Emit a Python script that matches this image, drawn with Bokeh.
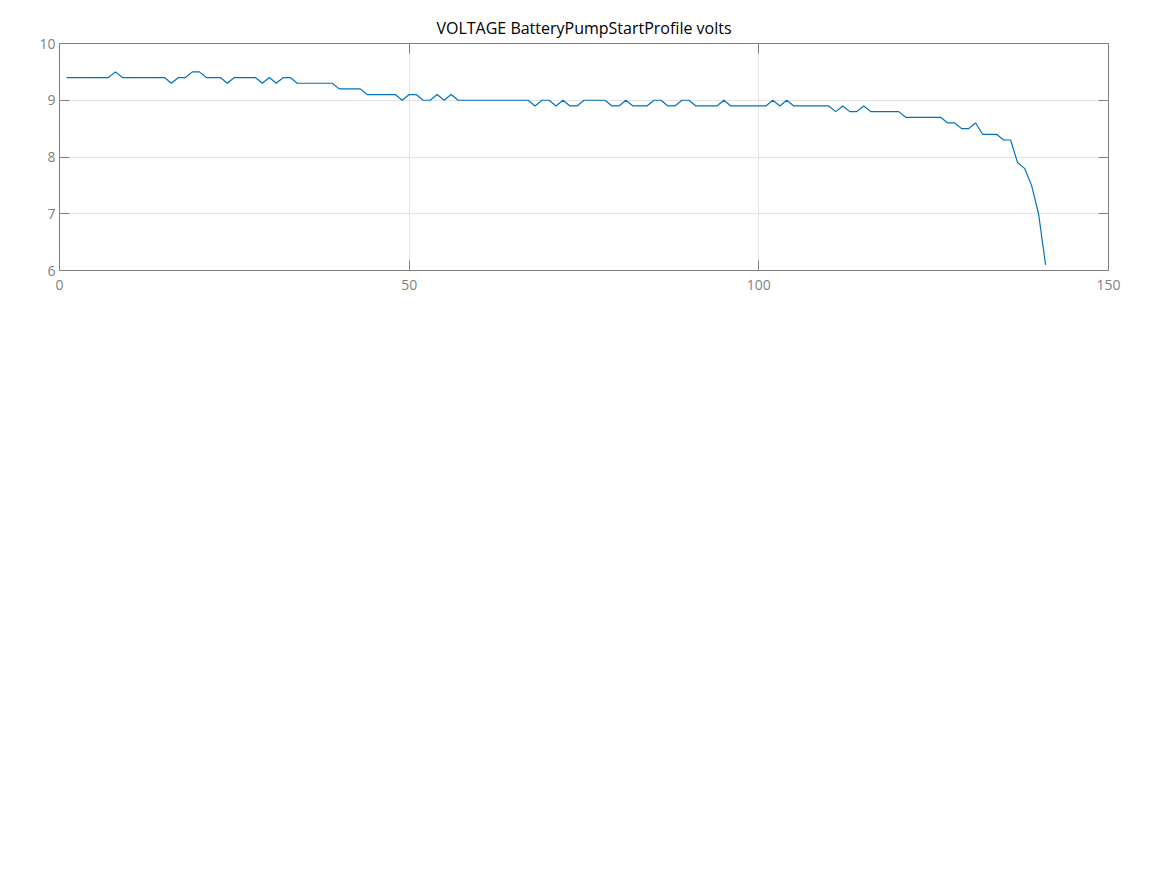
from bokeh.plotting import figure
from bokeh.models import LinearAxis, Range1d, FixedTicker, Grid
from bokeh.embed import file_html
from bokeh.resources import INLINE

sample = list(range(1, 142))
volts = [
    9.4, 9.4, 9.4, 9.4, 9.4, 9.4, 9.4, 9.5, 9.4, 9.4,
    9.4, 9.4, 9.4, 9.4, 9.4, 9.3, 9.4, 9.4, 9.5, 9.5,
    9.4, 9.4, 9.4, 9.3, 9.4, 9.4, 9.4, 9.4, 9.3, 9.4,
    9.3, 9.4, 9.4, 9.3, 9.3, 9.3, 9.3, 9.3, 9.3, 9.2,
    9.2, 9.2, 9.2, 9.1, 9.1, 9.1, 9.1, 9.1, 9.0, 9.1,
    9.1, 9.0, 9.0, 9.1, 9.0, 9.1, 9.0, 9.0, 9.0, 9.0,
    9.0, 9.0, 9.0, 9.0, 9.0, 9.0, 9.0, 8.9, 9.0, 9.0,
    8.9, 9.0, 8.9, 8.9, 9.0, 9.0, 9.0, 9.0, 8.9, 8.9,
    9.0, 8.9, 8.9, 8.9, 9.0, 9.0, 8.9, 8.9, 9.0, 9.0,
    8.9, 8.9, 8.9, 8.9, 9.0, 8.9, 8.9, 8.9, 8.9, 8.9,
    8.9, 9.0, 8.9, 9.0, 8.9, 8.9, 8.9, 8.9, 8.9, 8.9,
    8.8, 8.9, 8.8, 8.8, 8.9, 8.8, 8.8, 8.8, 8.8, 8.8,
    8.7, 8.7, 8.7, 8.7, 8.7, 8.7, 8.6, 8.6, 8.5, 8.5,
    8.6, 8.4, 8.4, 8.4, 8.3, 8.3, 7.9, 7.8, 7.5, 7.0,
    6.1,
]
x_ticks = [0, 50, 100, 150]
y_ticks = [6, 7, 8, 9, 10]
title_text = "VOLTAGE BatteryPumpStartProfile volts"

FONT = "Open Sans"
GRAY = "#7f7f7f"

p = figure(width=1158, height=310, output_backend="svg", toolbar_location=None,
           x_range=Range1d(0, 150), y_range=Range1d(6, 10),
           min_border_left=59, min_border_right=50, min_border_top=43,
           min_border_bottom=40, x_axis_location=None, y_axis_location=None)

p.title.text = title_text
p.title.align = "center"
p.title.text_font = FONT
p.title.text_font_size = "16px"
p.title.text_font_style = "normal"
p.title.text_color = "#000000"
p.title.standoff = 10

p.outline_line_color = GRAY
p.outline_line_width = 1
p.outline_line_alpha = 1.0

def style_axis(ax, ticks, labels=True):
    ax.ticker = FixedTicker(ticks=ticks)
    ax.axis_line_color = None
    ax.major_tick_in = 10
    ax.major_tick_out = 0
    ax.minor_tick_line_color = None
    ax.major_tick_line_color = GRAY
    ax.major_label_text_font = FONT
    ax.major_label_text_font_size = "14px"
    ax.major_label_text_color = GRAY
    if not labels:
        ax.major_label_overrides = {t: "" for t in ticks}
        ax.major_label_standoff = 0

xb = LinearAxis(); style_axis(xb, x_ticks); xb.major_label_standoff = 9
yl = LinearAxis(); style_axis(yl, y_ticks); yl.major_label_standoff = 4
xt = LinearAxis(); style_axis(xt, x_ticks, labels=False)
yr = LinearAxis(); style_axis(yr, y_ticks, labels=False)
p.add_layout(xb, "below")
p.add_layout(yl, "left")
p.add_layout(xt, "above")
p.add_layout(yr, "right")

p.xgrid.visible = False
p.ygrid.visible = False
p.add_layout(Grid(dimension=0, ticker=FixedTicker(ticks=x_ticks), grid_line_color="#e5e5e5"))
p.add_layout(Grid(dimension=1, ticker=FixedTicker(ticks=y_ticks), grid_line_color="#e5e5e5"))

p.line(sample, volts, line_color="#0072bd", line_width=1.2)

open("out.html", "w").write(file_html(p, INLINE))
